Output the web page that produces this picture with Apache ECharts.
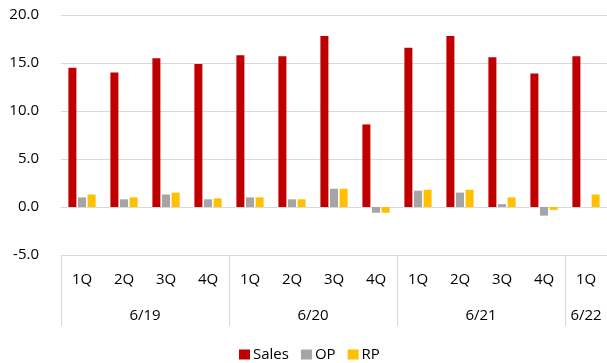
<!DOCTYPE html>
<html>
<head>
<meta charset="utf-8">
<script src="https://cdn.jsdelivr.net/npm/echarts@6/dist/echarts.min.js"></script>
<style>
  html, body { margin: 0; padding: 0; background: #fff; }
  #chart { width: 607px; height: 363px; }
</style>
</head>
<body>
<div id="chart"></div>
<script>
// quarters on the lower label row, fiscal years on the upper one
const quarters = ['1Q', '2Q', '3Q', '4Q', '1Q', '2Q', '3Q', '4Q', '1Q', '2Q', '3Q', '4Q', '1Q']
const years = ['6/19', '6/20', '6/21', '6/22']
const yearSpans = [4, 4, 4, 1]

const sales = [14.5, 14.0, 15.5, 14.9, 15.8, 15.7, 17.8, 8.6, 16.6, 17.8, 15.6, 13.9, 15.7]
const op = [1.0, 0.8, 1.3, 0.8, 1.0, 0.8, 1.9, -0.6, 1.7, 1.5, 0.3, -0.9, 0]
const rp = [1.3, 1.0, 1.5, 0.9, 1.0, 0.8, 1.9, -0.6, 1.8, 1.8, 1.0, -0.3, 1.3]

const yTicks = [-5, 0, 5, 10, 15, 20]

// year boundaries and label centres, from the spans
const yearEdges = [0]
const yearCenters = []
yearSpans.forEach((n, i) => {
  yearCenters.push(yearEdges[i] + n / 2)
  yearEdges.push(yearEdges[i] + n)
})

const font = '"Open Sans", sans-serif'
const textColor = '#000'
const lineColor = '#d9d9d9'

const chart = echarts.init(document.getElementById('chart'))
chart.setOption({
  animation: false,
  textStyle: { fontFamily: font },
  grid: { left: 61, right: -1, top: 15, bottom: 108, containLabel: false },
  legend: {
    data: ['Sales', 'OP', 'RP'],
    left: 234,
    top: 342,
    itemWidth: 11,
    itemHeight: 10,
    itemGap: 12,
    icon: 'rect',
    textStyle: { fontFamily: font, fontSize: 15, color: textColor, padding: [0, 0, 0, -2] }
  },
  xAxis: [
    {
      type: 'category',
      data: quarters,
      position: 'bottom',
      axisLine: { show: true, lineStyle: { color: lineColor, width: 1 } },
      axisTick: { show: false },
      axisLabel: { fontFamily: font, fontSize: 15, color: textColor, margin: 17, interval: 0 },
      splitLine: { show: false }
    },
    {
      type: 'value',
      min: 0,
      max: quarters.length,
      position: 'bottom',
      axisLine: { show: false },
      axisTick: {
        show: true,
        customValues: yearEdges,
        length: 71,
        lineStyle: { color: lineColor, width: 1 }
      },
      axisLabel: {
        show: true,
        customValues: yearCenters,
        formatter: (v) => years[yearCenters.indexOf(v)],
        fontFamily: font,
        fontSize: 15,
        color: textColor,
        margin: 53
      },
      splitLine: { show: false }
    }
  ],
  yAxis: {
    type: 'value',
    min: yTicks[0],
    max: yTicks[yTicks.length - 1],
    interval: 5,
    axisLine: { show: false },
    axisTick: { show: false },
    axisLabel: {
      fontFamily: font,
      fontSize: 15,
      color: textColor,
      margin: 22,
      formatter: (v) => v.toFixed(1)
    },
    splitLine: { lineStyle: { color: lineColor, width: 1 } }
  },
  series: [
    { name: 'Sales', type: 'bar', data: sales, barWidth: 8, barGap: '20%', itemStyle: { color: '#c00000' } },
    { name: 'OP', type: 'bar', data: op, barWidth: 8, barGap: '20%', itemStyle: { color: '#a5a5a5' } },
    { name: 'RP', type: 'bar', data: rp, barWidth: 8, barGap: '20%', itemStyle: { color: '#ffc000' } }
  ]
})
</script>
</body>
</html>
